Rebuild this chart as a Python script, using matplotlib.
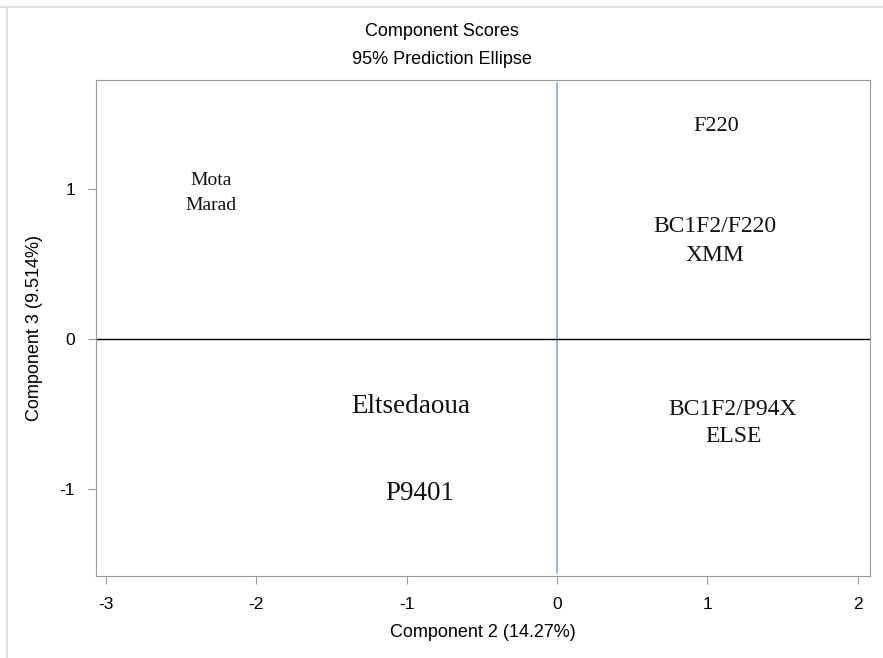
import matplotlib.pyplot as plt
from matplotlib.lines import Line2D

# Component scores (labels sit at the score positions)
labels = ["Mota", "Marad", "F220", "BC1F2/F220", "XMM",
          "Eltsedaoua", "P9401", "BC1F2/P94X", "ELSE"]
comp2 = [-2.30, -2.30, 1.06, 1.05, 1.05, -0.97, -0.91, 1.17, 1.17]
comp3 = [1.06, 0.89, 1.42, 0.75, 0.56, -0.45, -1.03, -0.47, -0.65]
label_sizes = [14, 14, 16, 17, 17, 19.5, 19.5, 17, 17]

xticks = [-3, -2, -1, 0, 1, 2]
yticks = [-1, 0, 1]

plt.rcParams['font.family'] = ['Liberation Sans', 'DejaVu Sans']
plt.rcParams['axes.unicode_minus'] = False
fig = plt.figure(figsize=(8.83, 6.58), dpi=100)
ax = fig.add_axes([96/883, 1-576/658, (870-96)/883, (576-80)/658])

ax.set_xlim(-3.064, 2.08)
ax.set_ylim(-1.58, 1.727)

ax.axvline(0, ymin=0.006, ymax=0.994, color='#6fa8dc', lw=1.1)
ax.axhline(0, color='black', lw=1)

for lab, x, y, s in zip(labels, comp2, comp3, label_sizes):
    ax.text(x, y, lab, ha='center', va='center', fontsize=s,
            family='Liberation Serif', color='#111111')

ax.set_xticks(xticks)
ax.set_yticks(yticks)
ax.tick_params(direction='out', length=6, color='#999999', labelsize=12.5, pad=9)
for sp in ax.spines.values():
    sp.set_color('#999999')

ax.set_xlabel("Component 2 (14.27%)", fontsize=13, labelpad=9)
ax.set_ylabel("Component 3 (9.514%)", fontsize=13, labelpad=12)

fig.text(0.5, 1-32/658, "Component Scores", ha='center', va='center', fontsize=13)
fig.text(0.5, 1-59/658, "95% Prediction Ellipse", ha='center', va='center', fontsize=13)

# light frame at the top and left edge
fig.add_artist(Line2D([0, 1], [1-7/658, 1-7/658], color='#d9d9d9', lw=1.2))
fig.add_artist(Line2D([7/883, 7/883], [0, 1-7/658], color='#d9d9d9', lw=1.2))

fig.savefig("out.png", dpi=100)
